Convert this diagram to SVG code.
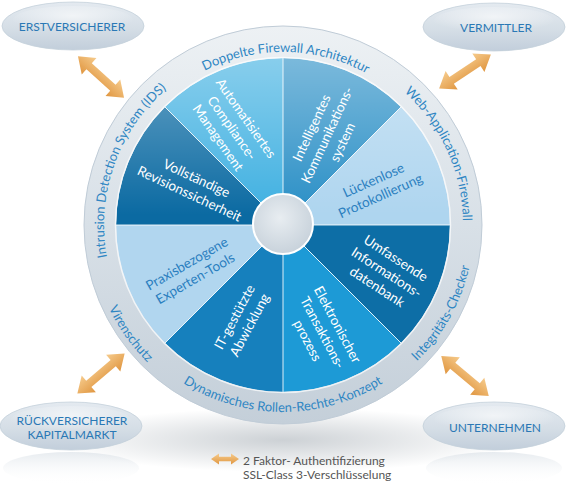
<svg xmlns="http://www.w3.org/2000/svg" width="567" height="487" viewBox="0 0 567 487">
<style>
  text { font-family: Lato, "Open Sans", "DejaVu Sans", sans-serif; }
  .ring-t { font-size: 13px; fill: #2f86c3; }
  .seg-w { font-size: 13.5px; fill: #ffffff; text-anchor: middle; }
  .seg-b { font-size: 13.5px; fill: #2b7fbf; text-anchor: middle; }
  .node-t { font-size: 12px; fill: #2a78b5; text-anchor: middle; }
  .leg { font-size: 12px; fill: #555555; }
  .sep { stroke: #ffffff; stroke-opacity: 0.85; stroke-width: 1; fill: none; }
  .ell { fill: url(#gEll); stroke: #c4d0db; stroke-width: 0.8; }
  .ellhi { fill: url(#gEllHi); }
  .arrow { fill: url(#gArrow); }
</style>
<defs>
  <linearGradient id="gEll" x1="0" y1="0" x2="0" y2="1">
    <stop offset="0" stop-color="#e4eaf0"/>
    <stop offset="0.55" stop-color="#d5dee6"/>
    <stop offset="1" stop-color="#c2cedb"/>
  </linearGradient>
  <radialGradient id="gEllHi" cx="0.5" cy="0.35" r="0.55">
    <stop offset="0" stop-color="#ffffff" stop-opacity="0.6"/>
    <stop offset="1" stop-color="#ffffff" stop-opacity="0"/>
  </radialGradient>
  <linearGradient id="gRefl" x1="0" y1="0" x2="0" y2="1">
    <stop offset="0" stop-color="#c9d3dc" stop-opacity="0.45"/>
    <stop offset="1" stop-color="#ffffff" stop-opacity="0"/>
  </linearGradient>
  <linearGradient id="gRing" x1="0" y1="0" x2="0" y2="1">
    <stop offset="0" stop-color="#edf1f4"/>
    <stop offset="0.5" stop-color="#d8e0e7"/>
    <stop offset="1" stop-color="#c4cfd9"/>
  </linearGradient>
  <linearGradient id="gGloss" gradientUnits="userSpaceOnUse" x1="0" y1="58" x2="0" y2="215">
    <stop offset="0" stop-color="#ffffff" stop-opacity="0.38"/>
    <stop offset="1" stop-color="#ffffff" stop-opacity="0"/>
  </linearGradient>
  <radialGradient id="gHub" cx="0.45" cy="0.4" r="0.6">
    <stop offset="0" stop-color="#e8edf1"/>
    <stop offset="1" stop-color="#c8d2db"/>
  </radialGradient>
  <linearGradient id="gArrow" x1="0" y1="0" x2="0" y2="1">
    <stop offset="0" stop-color="#f6cb8c"/>
    <stop offset="1" stop-color="#e09640"/>
  </linearGradient>
  <radialGradient id="gShadow" cx="0.5" cy="0.5" r="0.5">
    <stop offset="0" stop-color="#9aa3ab" stop-opacity="0.5"/>
    <stop offset="1" stop-color="#9aa3ab" stop-opacity="0"/>
  </radialGradient>
  <path id="arr" d="M-31,0 L-16,-11 L-16,-4 L16,-4 L16,-11 L31,0 L16,11 L16,4 L-16,4 L-16,11 Z"/>
  <path id="arrS" d="M-14,0 L-6,-5.5 L-6,-2.2 L6,-2.2 L6,-5.5 L14,0 L6,5.5 L6,2.2 L-6,2.2 L-6,5.5 Z"/>
  <clipPath id="pieClip"><circle cx="283" cy="225" r="167"/></clipPath>
  <path id="pTop" d="M121.49,163 A173,173 0 0 1 446.57,168.68"/>
  <path id="pWa" d="M300.25,45.83 A180,180 0 0 1 429.54,329.53"/>
  <path id="pIds" d="M146.89,341.25 A179,179 0 0 1 250.38,49"/>
  <path id="pDyn" d="M121.05,318.5 A187,187 0 0 0 444.95,318.5"/>
  <path id="pVir" d="M107.38,144.96 A193,193 0 0 0 301.5,417.11"/>
  <path id="pInt" d="M286.33,415.97 A191,191 0 0 0 446.72,126.63"/>
</defs>

<rect width="567" height="487" fill="#ffffff"/>
<ellipse cx="283" cy="440" rx="230" ry="32" fill="url(#gShadow)"/>

<g id="wheel">
  <circle cx="283" cy="225" r="199" fill="url(#gRing)" stroke="#c0ccd7" stroke-width="1"/>
  <g clip-path="url(#pieClip)">
    <path d="M283,225 L164.91,106.91 A167,167 0 0 1 283,58 Z" fill="#3fb0e1"/>
    <path d="M283,225 L283,58 A167,167 0 0 1 401.09,106.91 Z" fill="#2a8fc6"/>
    <path d="M283,225 L401.09,106.91 A167,167 0 0 1 450,225 Z" fill="#aed5ef"/>
    <path d="M283,225 L450,225 A167,167 0 0 1 401.09,343.09 Z" fill="#0d6ea6"/>
    <path d="M283,225 L401.09,343.09 A167,167 0 0 1 283,392 Z" fill="#1d9ad6"/>
    <path d="M283,225 L283,392 A167,167 0 0 1 164.91,343.09 Z" fill="#1680bd"/>
    <path d="M283,225 L164.91,343.09 A167,167 0 0 1 116,225 Z" fill="#b1d6ef"/>
    <path d="M283,225 L116,225 A167,167 0 0 1 164.91,106.91 Z" fill="#0b6aa2"/>
    <rect x="116" y="58" width="334" height="160" fill="url(#gGloss)"/>
  </g>
  <g class="sep">
    <line x1="283" y1="58" x2="283" y2="392"/>
    <line x1="116" y1="225" x2="450" y2="225"/>
    <line x1="164.91" y1="106.91" x2="401.09" y2="343.09"/>
    <line x1="401.09" y1="106.91" x2="164.91" y2="343.09"/>
  </g>
  <circle cx="283" cy="225" r="167.5" fill="none" stroke="#ffffff" stroke-opacity="0.7" stroke-width="1.5"/>
  <circle cx="283" cy="224" r="30" fill="url(#gHub)" stroke="#ffffff" stroke-width="2"/>
</g>

<g id="ring-labels">
  <text class="ring-t"><textPath href="#pTop" startOffset="50%" text-anchor="middle">Doppelte Firewall Architektur</textPath></text>
  <text class="ring-t"><textPath href="#pWa" startOffset="50%" text-anchor="middle">Web-Application-Firewall</textPath></text>
  <text class="ring-t"><textPath href="#pIds" startOffset="50%" text-anchor="middle">Intrusion Detection System (IDS)</textPath></text>
  <text class="ring-t"><textPath href="#pDyn" startOffset="50%" text-anchor="middle">Dynamisches Rollen-Rechte-Konzept</textPath></text>
  <text class="ring-t"><textPath href="#pVir" startOffset="50%" text-anchor="middle">Virenschutz</textPath></text>
  <text class="ring-t"><textPath href="#pInt" startOffset="50%" text-anchor="middle">Integritäts-Checker</textPath></text>
</g>

<g id="seg-compliance">
  <text class="seg-w" transform="translate(232,128) rotate(55)"><tspan x="0" y="-12.3">Automatisiertes</tspan><tspan x="0" y="4.7">Compliance-</tspan><tspan x="0" y="21.7">Management</tspan></text>
</g>
<g id="seg-kommunikation">
  <text class="seg-w" transform="translate(327,135) rotate(-65)"><tspan x="0" y="-12.3">Intelligentes</tspan><tspan x="0" y="4.7">Kommunikations-</tspan><tspan x="0" y="21.7">system</tspan></text>
</g>
<g id="seg-protokoll">
  <text class="seg-b" transform="translate(377,188) rotate(-24)"><tspan x="0" y="-3.8">Lückenlose</tspan><tspan x="0" y="13.2">Protokollierung</tspan></text>
</g>
<g id="seg-datenbank">
  <text class="seg-w" transform="translate(386.5,272.5) rotate(33)"><tspan x="0" y="-12.3">Umfassende</tspan><tspan x="0" y="4.7">Informations-</tspan><tspan x="0" y="21.7">datenbank</tspan></text>
</g>
<g id="seg-transaktion">
  <text class="seg-w" transform="translate(322.5,332.5) rotate(62)"><tspan x="0" y="-12.3">Elektronischer</tspan><tspan x="0" y="4.7">Transaktions-</tspan><tspan x="0" y="21.7">prozess</tspan></text>
</g>
<g id="seg-abwicklung">
  <text class="seg-w" transform="translate(242,321) rotate(-62)"><tspan x="0" y="-3.8">IT-gestützte</tspan><tspan x="0" y="13.2">Abwicklung</tspan></text>
</g>
<g id="seg-tools">
  <text class="seg-b" transform="translate(191,271) rotate(-30)"><tspan x="0" y="-3.8">Praxisbezogene</tspan><tspan x="0" y="13.2">Experten-Tools</tspan></text>
</g>
<g id="seg-revision">
  <text class="seg-w" transform="translate(193,186) rotate(25)"><tspan x="0" y="-3.8">Vollständige</tspan><tspan x="0" y="13.2">Revisionssicherheit</tspan></text>
</g>

<g id="node-erstversicherer">
  <ellipse class="ell" cx="73" cy="26" rx="71" ry="24"/>
  <ellipse class="ellhi" cx="73" cy="20" rx="60" ry="14"/>
  <text class="node-t" x="72" y="30.7">ERSTVERSICHERER</text>
</g>
<g id="node-vermittler">
  <ellipse class="ell" cx="494" cy="27" rx="71" ry="24"/>
  <ellipse class="ellhi" cx="494" cy="21" rx="60" ry="14"/>
  <text class="node-t" x="496" y="32">VERMITTLER</text>
</g>
<g id="node-rueckversicherer">
  <ellipse cx="71" cy="468" rx="68" ry="16" fill="url(#gRefl)"/>
  <ellipse class="ell" cx="71" cy="426" rx="71" ry="24"/>
  <ellipse class="ellhi" cx="71" cy="420" rx="60" ry="14"/>
  <text class="node-t" x="72" y="425"><tspan x="72" y="425">RÜCKVERSICHERER</tspan><tspan x="72" y="439.3">KAPITALMARKT</tspan></text>
</g>
<g id="node-unternehmen">
  <ellipse cx="494" cy="468" rx="68" ry="16" fill="url(#gRefl)"/>
  <ellipse class="ell" cx="494" cy="426" rx="71" ry="24"/>
  <ellipse class="ellhi" cx="494" cy="420" rx="60" ry="14"/>
  <text class="node-t" x="495" y="432">UNTERNEHMEN</text>
</g>

<g id="connectors">
  <use href="#arr" class="arrow" transform="translate(101,77) rotate(42)"/>
  <use href="#arr" class="arrow" transform="translate(465,71.5) rotate(-33.4)"/>
  <use href="#arr" class="arrow" transform="translate(101,373.5) rotate(-40.3)"/>
  <use href="#arr" class="arrow" transform="translate(465,376) rotate(40)"/>
</g>

<g id="legend">
  <use href="#arrS" class="arrow" transform="translate(225,459)"/>
  <text class="leg" x="243" y="465">2 Faktor- Authentifizierung</text>
  <text class="leg" x="243" y="479.3">SSL-Class 3-Verschlüsselung</text>
</g>
</svg>
